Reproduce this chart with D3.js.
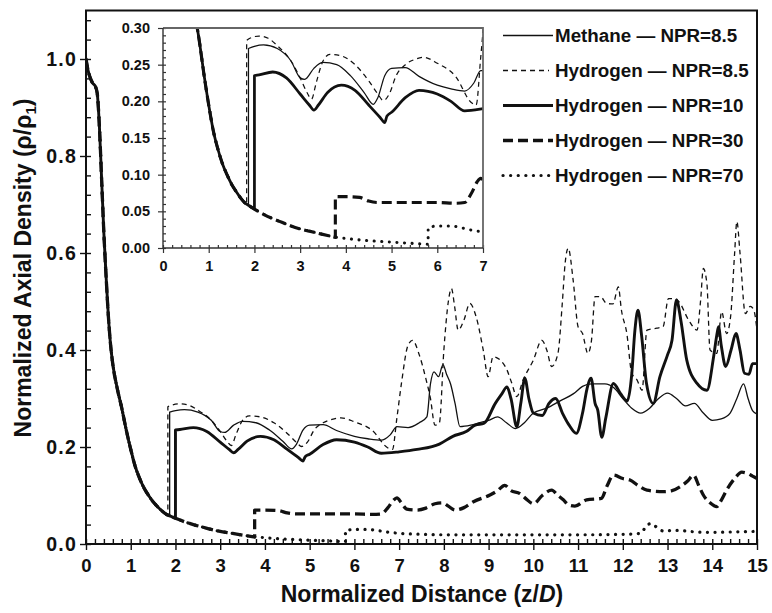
<!DOCTYPE html>
<html><head><meta charset="utf-8">
<script src="https://cdn.jsdelivr.net/npm/d3@7"></script>
<style>
body{margin:0;background:#fff;}
svg text{font-family:"Liberation Sans",Arial,sans-serif;font-weight:bold;fill:#111;}
</style></head>
<body><svg id="c" width="772" height="613"></svg>
<script>
// ---------- data ----------
const xTicks = d3.range(0, 16, 1);
const yTicks = [0, 0.2, 0.4, 0.6, 0.8, 1.0];
const insetXTicks = d3.range(0, 8, 1);
const insetYTicks = [0, 0.05, 0.10, 0.15, 0.20, 0.25, 0.30];

// shared upstream decay of the centreline density
const decay = [[0,1.0],[0.05,0.975],[0.1,0.96],[0.15,0.95],[0.2,0.945],[0.25,0.93],[0.3,0.86],[0.35,0.75],[0.4,0.64],[0.45,0.55],[0.5,0.47],[0.55,0.41],[0.6,0.37],[0.7,0.32],[0.8,0.28],[0.9,0.235],[1.0,0.195],[1.1,0.16],[1.2,0.135],[1.3,0.115],[1.4,0.1],[1.5,0.087],[1.6,0.077],[1.7,0.068],[1.8,0.061],[1.9,0.057],[2.0,0.053],[2.2,0.046],[2.4,0.040],[2.6,0.035],[2.8,0.030],[3.0,0.026],[3.2,0.023],[3.4,0.020],[3.6,0.017],[3.8,0.0145],[4.0,0.013],[4.3,0.011],[4.6,0.0095],[5.0,0.008],[5.4,0.0065],[5.8,0.005]];

const methane85 = [[1.87,0.059],[1.87,0.272],[2.0,0.275],[2.2,0.277],[2.5,0.272],[2.8,0.255],[3.0,0.232],[3.1,0.23],[3.3,0.245],[3.5,0.253],[3.8,0.25],[4.1,0.235],[4.4,0.212],[4.6,0.196],[4.7,0.205],[4.85,0.235],[5.0,0.245],[5.3,0.246],[5.6,0.234],[6.0,0.222],[6.3,0.217],[6.6,0.214],[6.8,0.225],[6.95,0.242],[7.2,0.24],[7.45,0.25],[7.62,0.262],[7.7,0.33],[7.78,0.355],[7.88,0.345],[7.98,0.37],[8.06,0.35],[8.15,0.33],[8.25,0.29],[8.36,0.242],[8.6,0.245],[8.8,0.25],[9.0,0.255],[9.2,0.262],[9.4,0.25],[9.6,0.238],[9.8,0.25],[10.0,0.27],[10.3,0.28],[10.6,0.295],[10.9,0.31],[11.1,0.325],[11.3,0.33],[11.6,0.33],[11.8,0.322],[12.0,0.3],[12.2,0.28],[12.4,0.27],[12.6,0.28],[12.8,0.3],[13.0,0.311],[13.2,0.3],[13.4,0.285],[13.6,0.29],[13.8,0.27],[14.0,0.255],[14.2,0.258],[14.4,0.27],[14.55,0.3],[14.7,0.33],[14.8,0.3],[14.9,0.275],[15.0,0.268]];

const hydrogen85 = [[1.83,0.062],[1.83,0.283],[1.9,0.286],[2.1,0.289],[2.3,0.286],[2.5,0.276],[2.8,0.255],[3.0,0.232],[3.15,0.212],[3.25,0.203],[3.35,0.225],[3.5,0.255],[3.65,0.264],[3.9,0.262],[4.2,0.25],[4.5,0.228],[4.7,0.21],[4.82,0.201],[4.95,0.21],[5.1,0.235],[5.3,0.25],[5.5,0.257],[5.7,0.26],[6.0,0.252],[6.4,0.234],[6.75,0.198],[6.85,0.195],[6.95,0.26],[7.05,0.33],[7.2,0.41],[7.3,0.42],[7.45,0.39],[7.6,0.34],[7.7,0.30],[7.8,0.245],[7.9,0.25],[8.0,0.40],[8.1,0.50],[8.17,0.527],[8.24,0.49],[8.32,0.441],[8.45,0.462],[8.58,0.496],[8.72,0.469],[8.88,0.40],[8.99,0.345],[9.1,0.386],[9.25,0.38],[9.41,0.359],[9.52,0.331],[9.63,0.304],[9.77,0.338],[10.0,0.379],[10.19,0.42],[10.3,0.40],[10.41,0.366],[10.55,0.393],[10.65,0.5],[10.71,0.578],[10.78,0.61],[10.89,0.544],[11.0,0.448],[11.1,0.434],[11.22,0.393],[11.3,0.42],[11.38,0.51],[11.5,0.51],[11.64,0.496],[11.78,0.495],[11.9,0.53],[11.97,0.482],[12.09,0.434],[12.2,0.352],[12.32,0.338],[12.43,0.317],[12.54,0.441],[12.76,0.445],[12.9,0.448],[13.02,0.506],[13.14,0.506],[13.25,0.5],[13.47,0.462],[13.66,0.441],[13.74,0.503],[13.8,0.568],[13.88,0.537],[13.95,0.4],[14.1,0.393],[14.21,0.479],[14.32,0.434],[14.41,0.469],[14.5,0.6],[14.55,0.665],[14.62,0.6],[14.74,0.475],[14.85,0.49],[14.93,0.482],[15.0,0.441]];

const hydrogen10 = [[2.0,0.053],[2.0,0.235],[2.1,0.236],[2.4,0.24],[2.7,0.232],[3.0,0.21],[3.2,0.195],[3.3,0.188],[3.4,0.195],[3.6,0.212],[3.9,0.222],[4.2,0.215],[4.5,0.195],[4.75,0.178],[4.85,0.171],[4.9,0.18],[5.0,0.185],[5.3,0.205],[5.6,0.215],[6.0,0.21],[6.3,0.2],[6.6,0.187],[7.0,0.19],[7.4,0.195],[7.9,0.206],[8.2,0.222],[8.5,0.232],[8.7,0.245],[8.9,0.249],[9.15,0.29],[9.3,0.31],[9.41,0.324],[9.5,0.30],[9.63,0.242],[9.72,0.29],[9.81,0.342],[9.9,0.30],[10.0,0.27],[10.2,0.265],[10.35,0.29],[10.5,0.30],[10.65,0.27],[10.8,0.245],[10.96,0.228],[11.1,0.27],[11.2,0.32],[11.29,0.342],[11.38,0.29],[11.44,0.276],[11.53,0.22],[11.62,0.26],[11.79,0.331],[11.95,0.31],[12.1,0.295],[12.2,0.35],[12.27,0.44],[12.34,0.482],[12.42,0.43],[12.53,0.331],[12.68,0.29],[12.83,0.345],[13.0,0.39],[13.1,0.42],[13.2,0.503],[13.3,0.46],[13.43,0.379],[13.66,0.331],[13.88,0.317],[14.03,0.386],[14.1,0.43],[14.14,0.448],[14.2,0.41],[14.3,0.366],[14.42,0.40],[14.53,0.434],[14.62,0.40],[14.72,0.352],[14.82,0.35],[14.9,0.372],[15.0,0.372]];

const hydrogen30 = [[3.77,0.0145],[3.77,0.07],[4.0,0.07],[4.3,0.069],[4.5,0.064],[4.7,0.062],[5.0,0.062],[5.5,0.062],[6.0,0.062],[6.4,0.061],[6.6,0.062],[6.75,0.075],[6.87,0.09],[6.95,0.095],[7.05,0.085],[7.17,0.072],[7.4,0.07],[7.6,0.074],[7.8,0.083],[7.97,0.085],[8.1,0.078],[8.25,0.07],[8.45,0.075],[8.66,0.087],[9.03,0.101],[9.2,0.11],[9.36,0.121],[9.5,0.11],[9.7,0.104],[9.85,0.092],[10.0,0.083],[10.2,0.1],[10.41,0.111],[10.55,0.1],[10.67,0.091],[10.8,0.08],[10.93,0.078],[11.19,0.091],[11.52,0.094],[11.65,0.12],[11.79,0.142],[12.0,0.135],[12.16,0.132],[12.35,0.12],[12.54,0.111],[12.91,0.108],[13.1,0.11],[13.28,0.118],[13.45,0.13],[13.58,0.142],[13.7,0.12],[13.8,0.101],[13.95,0.085],[14.1,0.077],[14.2,0.09],[14.32,0.111],[14.5,0.135],[14.66,0.148],[14.8,0.145],[14.9,0.14],[15.0,0.135]];

const hydrogen70 = [[5.8,0.005],[5.8,0.028],[6.0,0.03],[6.3,0.03],[6.5,0.028],[6.7,0.025],[7.0,0.022],[7.5,0.02],[8.0,0.019],[9.0,0.019],[10.0,0.019],[11.0,0.019],[12.0,0.02],[12.4,0.022],[12.55,0.04],[12.65,0.042],[12.75,0.035],[12.9,0.027],[13.2,0.028],[13.6,0.025],[14.0,0.024],[14.5,0.025],[15.0,0.026]];

const seriesNames = ["Methane \u2014 NPR=8.5","Hydrogen \u2014 NPR=8.5","Hydrogen \u2014 NPR=10","Hydrogen \u2014 NPR=30","Hydrogen \u2014 NPR=70"];
const seriesPosts = [methane85, hydrogen85, hydrogen10, hydrogen30, hydrogen70];

// ---------- styles ----------
const styles = [
  {w:1.3, dash:null, cap:"butt"},
  {w:1.3, dash:"5 4", cap:"butt"},
  {w:2.9, dash:null, cap:"butt"},
  {w:3.3, dash:"10 5", cap:"butt"},
  {w:3.2, dash:"0.1 7.5", cap:"round"}
];
const series = seriesPosts.map((post,i)=>{
  const jz = post[0][0];
  const pre = decay.filter(d=>d[0] < jz).concat([post[0]]);
  const after = post.slice(1);
  return {name:seriesNames[i], pre, after, style:styles[i]};
});

const svg = d3.select("#c");
const ink = "#111";

function pathFor(s, xs, ys, maxZ){
  const ln = d3.line().x(d=>xs(d[0])).y(d=>ys(d[1])).curve(d3.curveMonotoneX);
  const a = s.pre.filter(d=>d[0]<=maxZ);
  const b = s.after.filter(d=>d[0]<=maxZ);
  let p = ln(a);
  if (b.length) p += (b.length>1 ? ln(b) : `M${xs(b[0][0])},${ys(b[0][1])}`).replace(/^M/,"L");
  return p;
}

// ---------- main plot ----------
const x = d3.scaleLinear([0,15],[86,757]);
const y = d3.scaleLinear([0,1.1],[544,10.5]);

svg.append("clipPath").attr("id","mclip").append("rect")
  .attr("x",86).attr("y",10.5).attr("width",671).attr("height",533.5);

const mg = svg.append("g").attr("clip-path","url(#mclip)");
const drawOrder = [4,3,2,1,0];
drawOrder.forEach(i=>{
  const s = series[i];
  mg.append("path").attr("d",pathFor(s,x,y,99)).attr("fill","none")
    .attr("stroke",ink).attr("stroke-width",s.style.w)
    .attr("stroke-dasharray",s.style.dash).attr("stroke-linecap",s.style.cap)
    .attr("stroke-linejoin","round");
});

// axes
const xMinor = d3.range(0,15.001,0.2);
const yMinor = d3.range(0,1.1,0.04);
function styleAxis(g){ g.select(".domain").remove(); g.selectAll("line").attr("stroke",ink).attr("stroke-width",1.4); }

svg.append("g").attr("transform","translate(0,544)")
  .call(d3.axisBottom(x).tickValues(xTicks).tickSize(6).tickPadding(9).tickFormat(d3.format("d")))
  .call(styleAxis).call(g=>g.selectAll("text").attr("font-size",18.5).attr("fill",ink).attr("font-family",null));
svg.append("g").attr("transform","translate(0,544)")
  .call(d3.axisTop(x).tickValues(xMinor).tickSize(5).tickFormat(""))
  .call(styleAxis);
svg.append("g").attr("transform","translate(86,0)")
  .call(d3.axisLeft(y).tickValues(yTicks).tickSize(6).tickPadding(3).tickFormat(d3.format(".1f")))
  .call(styleAxis).call(g=>g.selectAll("text").attr("font-size",19.5).attr("letter-spacing",1.2).attr("fill",ink).attr("font-family",null));
svg.append("g").attr("transform","translate(86,0)")
  .call(d3.axisRight(y).tickValues(yMinor).tickSize(5).tickFormat(""))
  .call(styleAxis);

svg.append("rect").attr("x",86).attr("y",10.5).attr("width",671).attr("height",533.5)
  .attr("fill","none").attr("stroke",ink).attr("stroke-width",2);

// axis titles
const xt = svg.append("text").attr("x",422).attr("y",602).attr("text-anchor","middle").attr("font-size",23);
xt.append("tspan").text("Normalized Distance (z/");
xt.append("tspan").attr("font-style","italic").text("D");
xt.append("tspan").text(")");

const yt = svg.append("text").attr("transform","translate(31,268) rotate(-90)").attr("text-anchor","middle").attr("font-size",23);
yt.append("tspan").text("Normalized Axial Density (\u03c1/\u03c1");
yt.append("tspan").attr("font-size",15).attr("dy",5).text("1");
yt.append("tspan").attr("dy",-5).text(")");

// ---------- legend ----------
const lg = svg.append("g");
series.forEach((s,i)=>{
  const cy = 35.5 + i*35;
  lg.append("line").attr("x1",503).attr("x2",i===1?549:553).attr("y1",cy).attr("y2",cy)
    .attr("stroke",ink).attr("stroke-width",s.style.w)
    .attr("stroke-dasharray",s.style.dash).attr("stroke-linecap",s.style.cap);
  lg.append("text").attr("x",555).attr("y",cy).attr("dy","0.36em").attr("font-size",18.8).text(s.name);
});

// ---------- inset ----------
const xi = d3.scaleLinear([0,7],[163,483]);
const yi = d3.scaleLinear([0,0.3],[248,28]);
svg.append("rect").attr("x",163).attr("y",28).attr("width",320).attr("height",220).attr("fill","#fff");
svg.append("clipPath").attr("id","iclip").append("rect")
  .attr("x",163).attr("y",28).attr("width",320).attr("height",220);
const ig = svg.append("g").attr("clip-path","url(#iclip)");
drawOrder.forEach(i=>{
  const s = series[i];
  ig.append("path").attr("d",pathFor(s,xi,yi,7.6)).attr("fill","none")
    .attr("stroke",ink).attr("stroke-width",s.style.w*0.95)
    .attr("stroke-dasharray",s.style.dash).attr("stroke-linecap",s.style.cap)
    .attr("stroke-linejoin","round");
});
function styleAxisI(g){ g.select(".domain").remove(); g.selectAll("line").attr("stroke","#333").attr("stroke-width",1.2); }
svg.append("g").attr("transform","translate(0,248)")
  .call(d3.axisBottom(xi).tickValues(insetXTicks).tickSize(5).tickPadding(8).tickFormat(d3.format("d")))
  .call(styleAxisI).call(g=>g.selectAll("text").attr("font-size",14.5).attr("fill",ink).attr("font-family",null));
svg.append("g").attr("transform","translate(0,248)")
  .call(d3.axisTop(xi).tickValues(d3.range(0,7.001,0.2)).tickSize(3).tickFormat(""))
  .call(styleAxisI);
svg.append("g").attr("transform","translate(163,0)")
  .call(d3.axisLeft(yi).tickValues(insetYTicks).tickSize(5).tickPadding(8).tickFormat(d3.format(".2f")))
  .call(styleAxisI).call(g=>g.selectAll("text").attr("font-size",14.5).attr("fill",ink).attr("font-family",null));
svg.append("g").attr("transform","translate(163,0)")
  .call(d3.axisRight(yi).tickValues(d3.range(0,0.3001,0.01)).tickSize(3).tickFormat(""))
  .call(styleAxisI);
// inset frame
svg.append("path").attr("d",`M${xi(0)},${yi(0.3)}H${xi(7)}V${yi(0)}`).attr("fill","none").attr("stroke","#666").attr("stroke-width",1.8);
svg.append("path").attr("d",`M${xi(0)},${yi(0.3)}V${yi(0)}H${xi(7)}`).attr("fill","none").attr("stroke","#333").attr("stroke-width",1.4);
</script></body></html>
